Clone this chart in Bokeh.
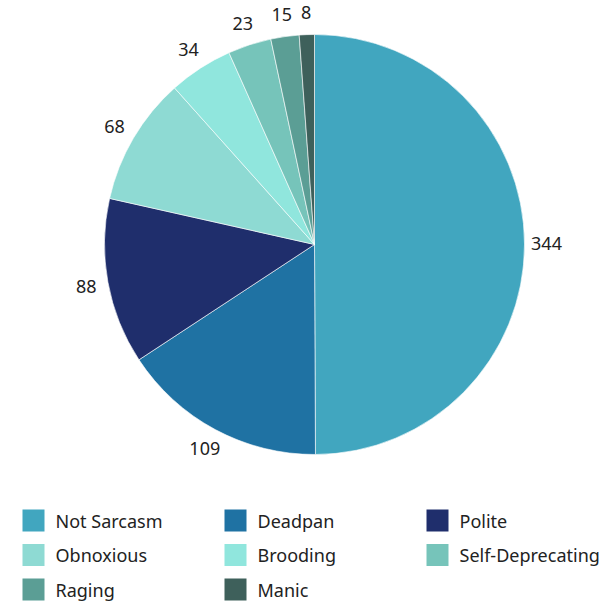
import numpy as np
from bokeh.plotting import figure
from bokeh.models import Range1d, ColumnDataSource
from bokeh.core.properties import value
from bokeh.embed import file_html
from bokeh.resources import INLINE

categories = ["Not Sarcasm", "Deadpan", "Polite", "Obnoxious", "Brooding",
              "Self-Deprecating", "Raging", "Manic"]
counts = [344, 109, 88, 68, 34, 23, 15, 8]
colors = ["#41a6bf", "#1f72a3", "#1f2e6c", "#8edad3", "#90e6dd",
          "#76c4ba", "#5b9e95", "#3e605b"]

W, H = 607, 603
FONT = "Noto Sans"

p = figure(width=W, height=H, output_backend="svg", toolbar_location=None,
           x_range=Range1d(0, W), y_range=Range1d(611 - H, 611),
           min_border=0, outline_line_color=None)
p.axis.visible = False
p.grid.visible = False
p.background_fill_color = "white"

cx, cy, r = 314, 611 - 244, 210
vals = np.array(counts, dtype=float)
frac = vals / vals.sum()
cum_end = np.cumsum(frac) * 2 * np.pi
cum_start = cum_end - frac * 2 * np.pi
start = np.pi / 2 - cum_end
end = np.pi / 2 - cum_start
mid = (cum_start + cum_end) / 2

src = ColumnDataSource(dict(start=start, end=end, color=colors))
p.wedge(x=cx, y=cy, radius=r, start_angle="start", end_angle="end",
        fill_color="color", line_color="white", line_width=0.6, source=src)

lr = r + 22
lx = cx + lr * np.sin(mid)
ly = cy + lr * np.cos(mid)
p.text(x=lx, y=ly, text=[str(c) for c in counts], text_align="center",
       text_baseline="middle", text_font=value(FONT), text_font_size="18px",
       text_color="#222222")

# legend
ncol = 3
col_x = [22, 224, 426]
row_y = [520, 554.5, 589]
sq = 22
idx = np.arange(len(categories))
sx = np.array([col_x[i % ncol] for i in idx], dtype=float)
sy = np.array([611 - row_y[i // ncol] for i in idx], dtype=float)
p.rect(x=sx + sq / 2, y=sy, width=sq, height=sq, fill_color=colors,
       line_color=None)
p.text(x=sx + 33, y=sy, text=categories, text_align="left",
       text_baseline="middle", text_font=value(FONT), text_font_size="18px",
       text_color="#222222")

open("out.html", "w").write(file_html(p, INLINE))
